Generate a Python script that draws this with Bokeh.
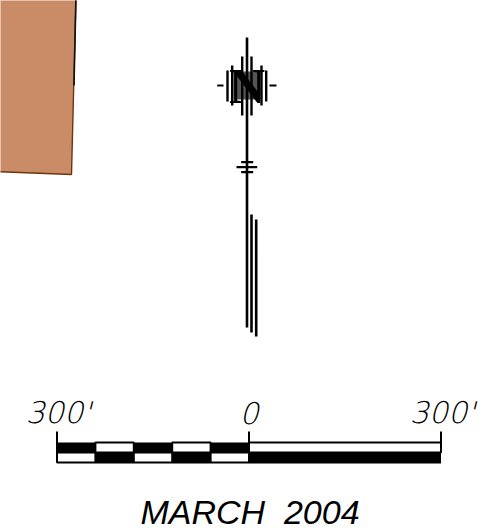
from bokeh.plotting import figure
from bokeh.embed import file_html
from bokeh.resources import INLINE
from bokeh.core.properties import value

W, H = 486, 530

# Scale bar, in feet from the zero mark
scale_labels = ["300'", "0", "300'"]
scale_ticks_ft = [-300, 0, 300]
blocks_top_black = [(-300, -240), (-180, -120), (-60, 0)]
blocks_top_white = [(-240, -180), (-120, -60), (0, 300)]
blocks_bottom_white = [(-300, -240), (-180, -120), (-60, 0)]
blocks_bottom_black = [(-240, -180), (-120, -60), (0, 300)]
title_text = "MARCH\u00a0\u00a02004"

# Parcel outline (page units)
parcel_x = [-5, 75.5, 71, -5]
parcel_y = [-5, -5, 174, 171]

# North arrow strokes (page units): x, y0, y1, width
north_verticals = [
    (246.5, 37, 327, 2.6), (251, 214, 332, 2.6), (255.7, 219, 336, 2.6),
    (241.7, 56, 115, 2.4), (251, 56, 115, 2.4),
    (231.7, 65, 105, 2.4), (261, 65, 105, 2.4),
    (227, 70, 101, 2.4), (265.7, 70, 101, 2.4),
]
north_ticks = [(216.7, 223, 85), (269, 276, 85), (240.7, 252.7, 161.7), (236, 256.7, 166.7), (240.7, 252.7, 171.7)]

FT = 0.64
X0 = 248.5

p = figure(width=W, height=H, x_range=(0, W), y_range=(H, 0), output_backend="svg",
           toolbar_location=None, min_border=0, outline_line_color=None,
           styles={"position": "absolute", "left": "0px", "top": "0px"})
p.axis.visible = False
p.grid.visible = False
p.background_fill_color = "white"
p.border_fill_color = "white"


def fx(ft):
    return X0 + ft * FT


p.patch(parcel_x, parcel_y, fill_color="#C98C66", line_color="#6E3510", line_width=1.4)
p.line([75.5, 73.5], [-5, 85], line_color="#111111", line_width=1.6)

# N block
p.quad(left=233, right=260, top=71, bottom=99, fill_color="#555555", line_color=None)
p.text([246.5], [85], text=["N"], text_font=value("Liberation Serif"), text_font_style="bold",
       text_font_size="50px", text_align="center", text_baseline="middle", text_color="black")

for x, y0, y1, w in north_verticals:
    p.segment(x, y0, x, y1, line_color="black", line_width=w)
for x0, x1, y in north_ticks:
    p.segment(x0, y, x1, y, line_color="black", line_width=2.2)

# Scale bar
p.quad(left=[fx(a) for a, b in blocks_top_black], right=[fx(b) for a, b in blocks_top_black],
       top=442, bottom=452, fill_color="black", line_color=None)
p.quad(left=[fx(a) for a, b in blocks_bottom_black], right=[fx(b) for a, b in blocks_bottom_black],
       top=452, bottom=463, fill_color="black", line_color=None)
p.quad(left=[fx(a) for a, b in blocks_top_white], right=[fx(b) for a, b in blocks_top_white],
       top=442, bottom=452, fill_color="white", line_color="black", line_width=2)
p.quad(left=[fx(a) for a, b in blocks_bottom_white], right=[fx(b) for a, b in blocks_bottom_white],
       top=452, bottom=462, fill_color="white", line_color="black", line_width=2)
p.segment([fx(t) for t in scale_ticks_ft], 431, [fx(t) for t in scale_ticks_ft], 452, line_color="black", line_width=2)

p.text([fx(t) + d for t, d in zip(scale_ticks_ft, [1.5, 0, 1.5])], [412] * 3, text=scale_labels,
       text_font=value("DejaVu Sans Light"), text_font_style="italic", text_font_size="30px",
       text_align="center", text_baseline="alphabetic", text_color="black")
p.text([249.5], [511], text=[title_text], text_font=value("Liberation Sans"), text_font_style="italic",
       text_font_size="34px", text_align="center", text_baseline="alphabetic", text_color="black")

open("out.html", "w").write(file_html(p, INLINE))
